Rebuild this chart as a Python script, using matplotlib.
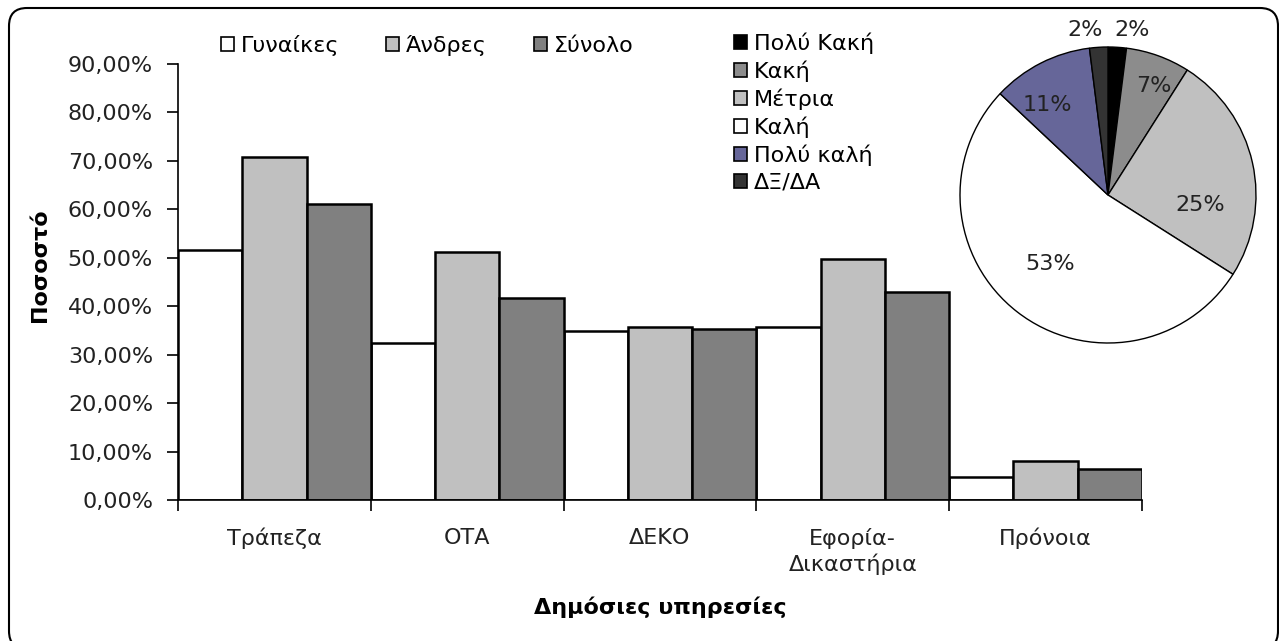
import matplotlib
matplotlib.use("Agg")
import matplotlib.pyplot as plt
from matplotlib.patches import Patch, FancyBboxPatch
from matplotlib.ticker import FuncFormatter, FixedLocator
from matplotlib.transforms import IdentityTransform
import numpy as np

plt.rcParams['font.family'] = ['DejaVu Sans']

# bar chart data (percent)
categories = ["Τράπεζα", "ΟΤΑ", "ΔΕΚΟ", "Εφορία-\nΔικαστήρια", "Πρόνοια"]
women = [51.7, 32.5, 34.9, 35.7, 4.7]
men = [70.9, 51.2, 35.7, 49.8, 8.0]
total = [61.2, 41.6, 35.3, 42.9, 6.3]
series_names = ["Γυναίκες", "Άνδρες", "Σύνολο"]
series_colors = ["#FFFFFF", "#C0C0C0", "#808080"]

# pie data
pie_labels = ["Πολύ Κακή", "Κακή", "Μέτρια", "Καλή", "Πολύ καλή", "ΔΞ/ΔΑ"]
pie_values = [2, 7, 25, 53, 11, 2]
pie_colors = ["#000000", "#8C8C8C", "#C0C0C0", "#FFFFFF", "#666699", "#333333"]

W, H = 1279, 641
FS = 16
fig = plt.figure(figsize=(W / 100, H / 100), dpi=100)

# outer rounded frame
frame = FancyBboxPatch((9, -8), 1269, 641, boxstyle="round,pad=0,rounding_size=18",
                       transform=IdentityTransform(), fill=False, ec="#000000", lw=1.5)
fig.patches.append(frame)

# bar axes
ax = fig.add_axes([178 / W, 1 - 500 / H, (1142 - 178) / W, (500 - 64) / H])
x = np.arange(len(categories))
bw = 1 / 3
for k, (vals, col, name) in enumerate(zip([women, men, total], series_colors, series_names)):
    ax.bar(x + bw / 2 + k * bw, vals, width=bw, color=col, edgecolor="black",
           linewidth=1.8, label=name)

ax.set_xlim(0, len(categories))
ax.set_ylim(0, 90)
ax.set_yticks(np.arange(0, 91, 10))
ax.yaxis.set_major_formatter(FuncFormatter(lambda v, p: f"{v:.2f}%".replace(".", ",")))
ax.xaxis.set_major_locator(FixedLocator(np.arange(len(categories) + 1)))
ax.xaxis.set_minor_locator(FixedLocator(x + 0.5))
ax.set_xticklabels([""] * (len(categories) + 1))
ax.set_xticklabels(categories, minor=True, fontsize=FS, color="#222222", va="top",
                   linespacing=1.25)
ax.tick_params(axis="x", which="major", direction="out", length=8, width=1.2)
ax.tick_params(axis="x", which="minor", length=0, pad=20)
ax.tick_params(axis="y", direction="out", length=8, width=1.2, labelsize=FS,
               labelcolor="#222222", pad=10)
for s in ["top", "right"]:
    ax.spines[s].set_visible(False)
for s in ["left", "bottom"]:
    ax.spines[s].set_linewidth(1.2)

fig.text(40 / W, 1 - 265 / H, "Ποσοστό", rotation=90, ha="center", va="center",
         fontsize=FS, fontweight="bold")
fig.text(660 / W, 1 - 607 / H, "Δημόσιες υπηρεσίες", ha="center", va="center",
         fontsize=FS, fontweight="bold")

h1 = [Patch(facecolor=c, edgecolor="black", linewidth=1.2) for c in series_colors]
fig.legend(h1, series_names, loc="center left", bbox_to_anchor=(221 / W, 1 - 45 / H),
           ncol=3, frameon=False, fontsize=FS, handlelength=0.6, handleheight=0.6,
           handletextpad=0.3, columnspacing=2.1, borderpad=0, borderaxespad=0)

# pie
cx, cy, r = 1108, 195, 148
pax = fig.add_axes([(cx - r) / W, 1 - (cy + r) / H, 2 * r / W, 2 * r / H])
wedges, texts, autotexts = pax.pie(pie_values, colors=pie_colors, startangle=90,
                                   counterclock=False, autopct="%1.0f%%",
                                   pctdistance=0.62,
                                   wedgeprops=dict(edgecolor="black", linewidth=1.0),
                                   textprops=dict(fontsize=FS, color="#222222"))
pax.set_xlim(-1, 1)
pax.set_ylim(-1, 1)
# label placement (distance from centre, angle tweak in degrees)
dists = [1.115, 0.8, 0.63, 0.61, 0.73, 1.115]
turns = [0, -3, -19, -2, 7, 0]
for w, t, d, dt in zip(wedges, autotexts, dists, turns):
    a = np.deg2rad((w.theta1 + w.theta2) / 2 + dt)
    px, py = d * np.cos(a), d * np.sin(a)
    if d > 1:
        px = 0.04 if px > 0 else -0.035
        t.set_ha("left" if px > 0 else "right")
    t.set_position((px, py))

h2 = [Patch(facecolor=c, edgecolor="black", linewidth=1.2) for c in pie_colors]
fig.legend(h2, pie_labels, loc="upper left", bbox_to_anchor=(734 / W, 1 - 32 / H),
           frameon=False, fontsize=FS, handlelength=0.6, handleheight=0.6,
           handletextpad=0.3, labelspacing=0.3, borderpad=0, borderaxespad=0)

fig.savefig("out.png", dpi=100)
